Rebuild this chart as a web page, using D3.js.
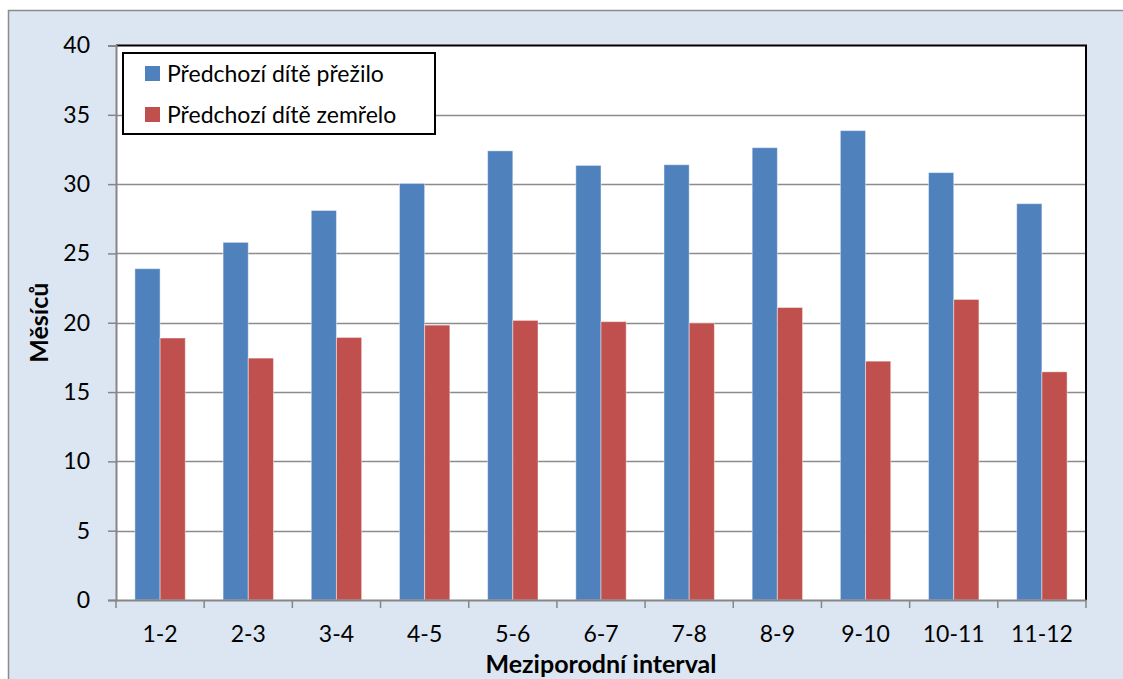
<!DOCTYPE html>
<html>
<head>
<meta charset="utf-8">
<script src="https://cdn.jsdelivr.net/npm/d3@7"></script>
<style>
  html, body { margin: 0; padding: 0; background: #ffffff; }
  svg { display: block; font-family: Lato, "Open Sans", sans-serif; }
</style>
</head>
<body>
<svg id="chart" width="1123" height="679"></svg>
<script>
const categories = ["1-2","2-3","3-4","4-5","5-6","6-7","7-8","8-9","9-10","10-11","11-12"];
const seriesNames = ["Předchozí dítě přežilo", "Předchozí dítě zemřelo"];
const survived = [23.9, 25.8, 28.1, 30.05, 32.4, 31.35, 31.4, 32.63, 33.86, 30.83, 28.59];
const died     = [18.9, 17.45, 18.94, 19.83, 20.17, 20.08, 19.98, 21.1, 17.23, 21.68, 16.46];
const yTicks = [0, 5, 10, 15, 20, 25, 30, 35, 40];
const colors = ["#4f81bd", "#c0504d"];
const yTitle = "Měsíců";
const xTitle = "Meziporodní interval";

const svg = d3.select("#chart");
const W = 1123, H = 679;

// outer chart area
svg.append("rect").attr("x", 8.5).attr("y", 10.5).attr("width", W + 20).attr("height", H + 20)
  .attr("fill", "#dce6f2").attr("stroke", "#8c8c8c").attr("stroke-width", 1.5);

const m = { left: 116, right: 1086, top: 45.5, bottom: 600 };

const x0 = d3.scaleBand().domain(categories).range([m.left, m.right]).paddingInner(0).paddingOuter(0);
const groupPad = 1.5 / 3.5;
const x1 = d3.scaleBand().domain(seriesNames).range([0, x0.bandwidth() * (1 - groupPad)]);
const y = d3.scaleLinear().domain([0, 40]).range([m.bottom, m.top]);

// plot area
svg.append("rect").attr("x", m.left).attr("y", m.top).attr("width", m.right - m.left).attr("height", m.bottom - m.top)
  .attr("fill", "#ffffff");

// gridlines
svg.append("g").selectAll("line").data(yTicks.filter(d => d > 0 && d < 40)).join("line")
  .attr("x1", m.left).attr("x2", m.right)
  .attr("y1", d => Math.round(y(d)) + 0.5).attr("y2", d => Math.round(y(d)) + 0.5)
  .attr("stroke", "#8c8c8c").attr("stroke-width", 1.5);

// bars
const data = categories.map((c, i) => ({ c, vals: [survived[i], died[i]] }));
const groups = svg.append("g").selectAll("g").data(data).join("g")
  .attr("transform", d => `translate(${x0(d.c) + x0.bandwidth() * groupPad / 2},0)`);
groups.selectAll("rect").data(d => d.vals.map((v, k) => ({ k, v }))).join("rect")
  .attr("x", d => x1(seriesNames[d.k]))
  .attr("width", x1.bandwidth())
  .attr("y", d => y(d.v))
  .attr("height", d => y(0) - y(d.v))
  .attr("fill", d => colors[d.k])
  .attr("stroke", "rgba(255,255,255,0.45)").attr("stroke-width", 1);

// plot area border (top, right black)
svg.append("path")
  .attr("d", `M${m.left},${m.top}H${m.right}V${m.bottom}`)
  .attr("fill", "none").attr("stroke", "#000").attr("stroke-width", 2);

// y axis
const yAxis = d3.axisLeft(y).tickValues(yTicks).tickSize(8).tickPadding(18).tickFormat(d3.format("d"));
const gy = svg.append("g").attr("transform", `translate(${m.left},0)`).call(yAxis);
gy.select(".domain").attr("stroke", "#868686").attr("stroke-width", 2);
gy.selectAll(".tick line").attr("stroke", "#868686").attr("stroke-width", 1.5);
gy.selectAll(".tick text").attr("font-size", 23).attr("fill", "#000").attr("font-family", "Lato, sans-serif");

// x axis
const xAxis = d3.axisBottom(x0).tickSize(0).tickPadding(26);
const gx = svg.append("g").attr("transform", `translate(0,${m.bottom})`).call(xAxis);
gx.select(".domain").attr("stroke", "#868686").attr("stroke-width", 2);
gx.selectAll(".tick text").attr("font-size", 23).attr("fill", "#000").attr("font-family", "Lato, sans-serif");
// category boundary ticks
svg.append("g").selectAll("line").data(d3.range(categories.length + 1)).join("line")
  .attr("x1", i => m.left + i * x0.step()).attr("x2", i => m.left + i * x0.step())
  .attr("y1", m.bottom).attr("y2", m.bottom + 8)
  .attr("stroke", "#868686").attr("stroke-width", 1.5);

// axis titles
svg.append("text").attr("transform", `translate(48,${(m.top + m.bottom) / 2}) rotate(-90)`)
  .attr("text-anchor", "middle").attr("font-size", 25).attr("font-weight", "bold").text(yTitle);
svg.append("text").attr("x", 601).attr("y", 673)
  .attr("text-anchor", "middle").attr("font-size", 25).attr("font-weight", "bold").text(xTitle);

// legend
const lg = svg.append("g");
lg.append("rect").attr("x", 123).attr("y", 53).attr("width", 312).attr("height", 81)
  .attr("fill", "#fff").attr("stroke", "#000").attr("stroke-width", 2);
seriesNames.forEach((n, i) => {
  lg.append("rect").attr("x", 145).attr("y", 66 + i * 41).attr("width", 15).attr("height", 15).attr("fill", colors[i]);
  lg.append("text").attr("x", 167).attr("y", 82 + i * 41).attr("font-size", 23).attr("fill", "#000").text(n);
});
</script>
</body>
</html>
